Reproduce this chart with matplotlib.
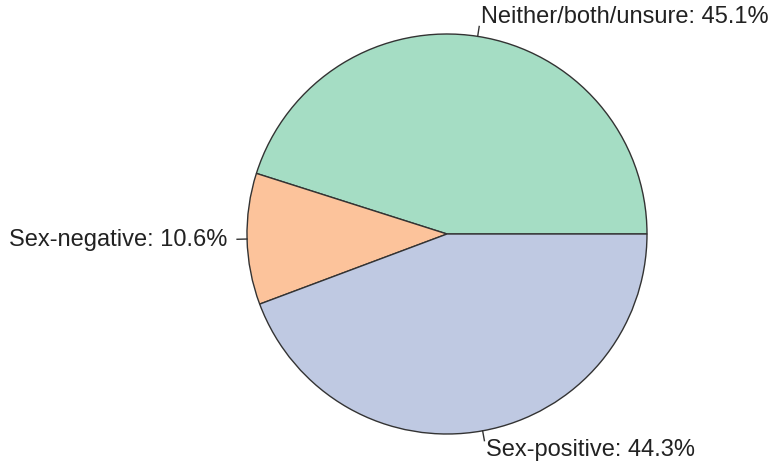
import numpy as np
import matplotlib.pyplot as plt

# slice data, counterclockwise from 3 o'clock
labels = ['Neither/both/unsure', 'Sex-negative', 'Sex-positive']
shares = [45.1, 10.6, 44.3]
colors = ['#A5DDC4', '#FCC39B', '#BFC9E2']

fig = plt.figure(figsize=(7.75, 4.61), dpi=100)
ax = fig.add_axes([0, 0, 1, 1])

ax.pie(shares, colors=colors, startangle=0, counterclock=True, radius=1,
       wedgeprops=dict(edgecolor='#333333', linewidth=1.0))

# R style labels: tick from r=1 to 1.05, text at 1.1
cum = np.cumsum([0] + shares)
total = cum[-1]
for i, lab in enumerate(labels):
    mid = np.deg2rad((cum[i] + cum[i + 1]) / 2 / total * 360)
    c, s = np.cos(mid), np.sin(mid)
    ax.plot([c, 1.05 * c], [s, 1.05 * s], color='#333333', lw=1.0)
    ha = 'left' if c > 0 else 'right'
    ax.text(1.1 * c, 1.1 * s, f'{lab}: {shares[i]}%', ha=ha, va='center',
            fontsize=17, family='Liberation Sans', color='#222222')

ax.set_xlim(-447 / 200, (775 - 447) / 200)
ax.set_ylim(-227 / 200, 234 / 200)
ax.set_aspect('equal')
ax.axis('off')

fig.savefig('out.png', dpi=100)
